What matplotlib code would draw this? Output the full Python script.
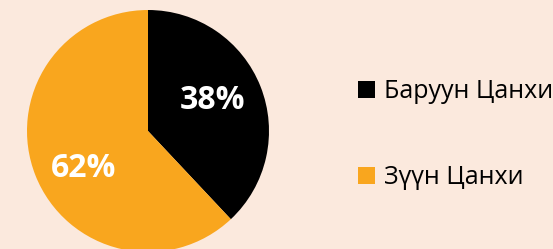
import matplotlib.pyplot as plt
from matplotlib.patches import Patch

labels = ['Баруун Цанхи', 'Зүүн Цанхи']
values = [38, 62]
colors = ['#000000', '#F9A61E']
bg = '#FBE9DD'

plt.rcParams['font.family'] = ['Open Sans', 'DejaVu Sans']

fig = plt.figure(figsize=(5.53, 2.49), dpi=100, facecolor=bg)
ax = fig.add_axes([27 / 553, -3 / 249, 242 / 553, 242 / 249])
ax.set_facecolor(bg)

wedges, texts, autotexts = ax.pie(values, colors=colors, startangle=90, counterclock=False,
                                  autopct='%1.0f%%', pctdistance=0.6, radius=1,
                                  wedgeprops=dict(linewidth=0))
# label spots as placed in the original
label_pos = [(0.53, 0.25), (-0.53, -0.31)]
for t, p in zip(autotexts, label_pos):
    t.set_position(p)
    t.set_color('white')
    t.set_fontsize(23)
    t.set_fontweight('bold')
ax.set_xlim(-1, 1)
ax.set_ylim(-1, 1)
ax.set_aspect('equal')
ax.axis('off')

handles = [Patch(facecolor=c, edgecolor='none') for c in colors]
fig.legend(handles, labels, loc='upper left', bbox_to_anchor=(358 / 553, 1 - 79 / 249),
           frameon=False, fontsize=18, handlelength=0.68, handleheight=0.68,
           handletextpad=0.35, labelspacing=2.45, borderaxespad=0, borderpad=0)

fig.savefig('out.png', dpi=100, facecolor=bg)
